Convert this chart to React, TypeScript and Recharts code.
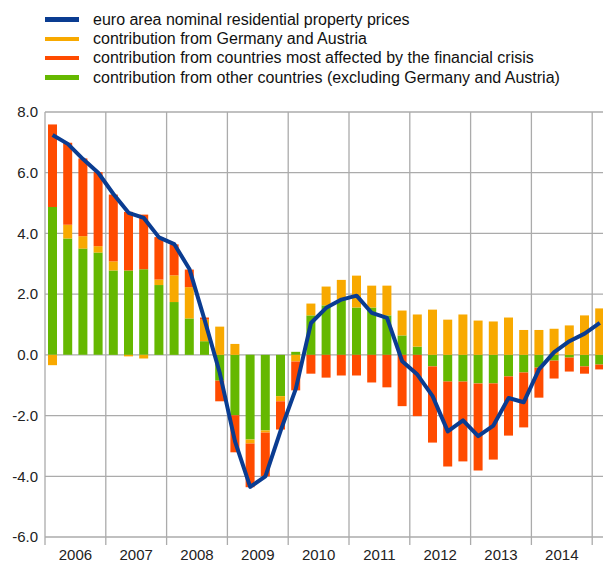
import React from 'react';
import { ComposedChart, Bar, Line, XAxis, YAxis, CartesianGrid } from 'recharts';

const quarters = [
  '2006Q1', '2006Q2', '2006Q3', '2006Q4',
  '2007Q1', '2007Q2', '2007Q3', '2007Q4',
  '2008Q1', '2008Q2', '2008Q3', '2008Q4',
  '2009Q1', '2009Q2', '2009Q3', '2009Q4',
  '2010Q1', '2010Q2', '2010Q3', '2010Q4',
  '2011Q1', '2011Q2', '2011Q3', '2011Q4',
  '2012Q1', '2012Q2', '2012Q3', '2012Q4',
  '2013Q1', '2013Q2', '2013Q3', '2013Q4',
  '2014Q1', '2014Q2', '2014Q3', '2014Q4',
  '2015Q1',
];

const otherCountries = [
  4.87, 3.83, 3.5, 3.37, 2.78, 2.78, 2.82, 2.3, 1.74, 1.2, 0.45, -0.85,
  -1.99, -2.79, -2.49, -1.36, 0.1, 1.3, 1.63, 1.82, 1.56, 1.56, 1.3, 0.64,
  0.27, -0.38, -0.88, -0.88, -0.94, -0.94, -0.71, -0.58, -0.42, -0.19, -0.09, -0.38,
  -0.32,
];

const germanyAustria = [
  -0.34, 0.46, 0.41, 0.21, 0.3, -0.05, -0.12, 0.18, 0.88, 1.03, 0.71, 0.93,
  0.36, -0.13, -0.07, -0.17, -0.22, 0.39, 0.62, 0.65, 1.05, 0.72, 0.98, 0.82,
  1.06, 1.49, 1.16, 1.33, 1.13, 1.1, 1.23, 0.82, 0.82, 0.86, 0.97, 1.3,
  1.53,
];

const crisisCountries = [
  2.72, 2.7, 2.56, 2.44, 2.2, 1.93, 1.8, 1.4, 1.02, 0.58, 0.07, -0.68,
  -1.22, -1.44, -1.44, -0.93, -0.95, -0.62, -0.75, -0.68, -0.68, -0.91, -1.07, -1.69,
  -2.02, -2.51, -2.8, -2.63, -2.87, -2.51, -1.95, -1.81, -0.99, -0.59, -0.46, -0.24,
  -0.16,
];

const euroArea = [
  7.24, 6.95, 6.45, 6.0, 5.3, 4.68, 4.51, 3.87, 3.65, 2.83, 1.15, -0.6,
  -2.85, -4.35, -4.0, -2.5, -1.12, 1.05, 1.55, 1.82, 1.95, 1.38, 1.22, -0.21,
  -0.65, -1.36, -2.52, -2.16, -2.68, -2.33, -1.42, -1.56, -0.48, 0.09, 0.45, 0.7,
  1.05,
];

const yTicks = [-6, -4, -2, 0, 2, 4, 6, 8];

const legendItems = [
  { label: 'euro area nominal residential property prices', color: '#0a3c91' },
  { label: 'contribution from Germany and Austria', color: '#f8a900' },
  { label: 'contribution from countries most affected by the financial crisis', color: '#ff4b00' },
  { label: 'contribution from other countries (excluding Germany and Austria)', color: '#65b800' },
];

const data = quarters.map((q, i) => ({
  q,
  other: otherCountries[i],
  germany: germanyAustria[i],
  crisis: crisisCountries[i],
  euro: euroArea[i],
}));

// plot runs a bit past the right edge, so 2015Q1 is cut off like in the source
const CHART_W = 610;
const Y_AXIS_W = 45;
const MARGIN_RIGHT = 2.6;
const BAND = (CHART_W - Y_AXIS_W - MARGIN_RIGHT) / quarters.length;
const GRID = '#ababab';
const FONT = '"Liberation Sans", Arial, sans-serif';

const YearTick = (props: any) => {
  const { x, y, payload } = props;
  const value: string = payload.value;
  if (!value.endsWith('Q1')) return <g />;
  const left = x - BAND / 2;
  const year = value.slice(0, 4);
  return (
    <g>
      <line x1={left} x2={left} y1={y} y2={y + 8} stroke={GRID} strokeWidth={1.3} />
      {year !== '2015' && (
        <text x={left + BAND * 2} y={y + 19} textAnchor="middle" dominantBaseline="middle" fontSize={15} fill="#222" fontFamily={FONT}>
          {year}
        </text>
      )}
    </g>
  );
};

export default function App() {
  return (
    <div style={{ position: 'fixed', left: 0, top: 0, width: 603, height: 567, overflow: 'hidden', background: '#fff', fontFamily: FONT }}>
      <div style={{ position: 'absolute', left: 0, top: 10 }}>
        {legendItems.map((it) => (
          <div key={it.label} style={{ display: 'flex', alignItems: 'center', height: 19.3 }}>
            <div style={{ width: 34, height: 4.5, marginLeft: 45, marginRight: 14, background: it.color }} />
            <span style={{ fontSize: 16, color: '#111', whiteSpace: 'nowrap' }}>{it.label}</span>
          </div>
        ))}
      </div>
      <div style={{ position: 'absolute', left: 0, top: 0, width: CHART_W }}>
        <ComposedChart
          width={CHART_W}
          height={567}
          data={data}
          stackOffset="sign"
          barCategoryGap={0}
          margin={{ top: 112, right: MARGIN_RIGHT, bottom: 0, left: 0 }}
        >
          <CartesianGrid
            stroke={GRID}
            strokeWidth={1.3}
            verticalCoordinatesGenerator={({ offset }: any) =>
              quarters.map((q, i) => (q.endsWith('Q1') ? offset.left + i * BAND : null)).filter((v) => v !== null) as number[]
            }
          />
          <XAxis
            dataKey="q"
            interval={0}
            height={30}
            axisLine={false}
            tickLine={false}
            tickSize={0}
            tickMargin={0}
            tick={<YearTick />}
          />
          <YAxis
            width={Y_AXIS_W}
            domain={[-6, 8]}
            ticks={yTicks}
            axisLine={false}
            tickLine={false}
            tickSize={0}
            tickMargin={7}
            tickFormatter={(v: number) => v.toFixed(1)}
            tick={{ fontSize: 15, fill: '#222', fontFamily: FONT }}
          />
          <Bar dataKey="other" stackId="c" fill="#65b800" barSize={9} isAnimationActive={false} />
          <Bar dataKey="germany" stackId="c" fill="#f8a900" barSize={9} isAnimationActive={false} />
          <Bar dataKey="crisis" stackId="c" fill="#ff4b00" barSize={9} isAnimationActive={false} />
          <Line
            dataKey="euro"
            type="linear"
            stroke="#0a3c91"
            strokeWidth={4}
            dot={false}
            strokeLinejoin="round"
            isAnimationActive={false}
          />
        </ComposedChart>
      </div>
    </div>
  );
}
